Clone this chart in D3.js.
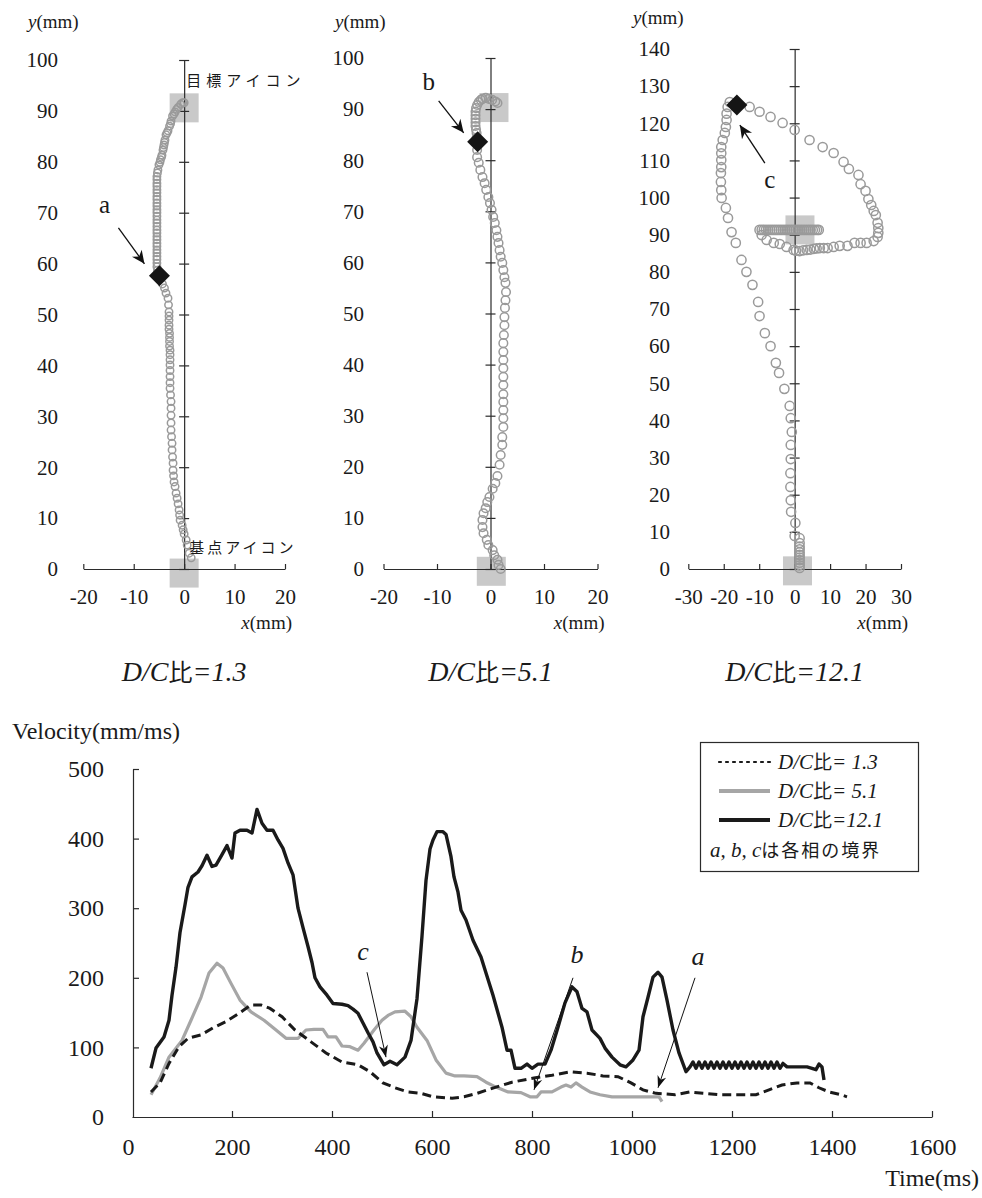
<!DOCTYPE html>
<html>
<head>
<meta charset="utf-8">
<script src="https://cdn.jsdelivr.net/npm/d3@7"></script>
<style>
  body { margin: 0; background: #fff; }
  svg { font-family: "Liberation Serif", "Times New Roman", serif; }
  svg text { font-family: "Liberation Serif", "Times New Roman", serif; fill: #1a1a1a; }
  svg text .jp, svg text.jp { font-family: "Noto Sans CJK JP", sans-serif; }
</style>
</head>
<body>
<svg id="fig" width="982" height="1198"></svg>
<script>
// ---------- trajectory data (x, y in mm), start -> end ----------
const traj13 = [
  [1.4,2.2],[1.0,3.1],[0.6,4.7],[0.4,5.7],[0.0,6.9],[-0.2,7.7],[-0.4,8.6],[-0.8,9.6],[-0.9,10.6],[-1.0,11.6],
  [-1.2,12.8],[-1.4,13.9],[-1.6,14.9],[-1.8,16.2],[-2.0,17.1],[-2.1,18.3],[-2.2,19.4],[-2.2,20.8],[-2.3,22.0],[-2.4,23.4],
  [-2.4,24.7],[-2.5,26.0],[-2.6,27.3],[-2.6,28.7],[-2.6,30.2],[-2.6,31.6],[-2.6,32.9],[-2.7,34.2],[-2.8,35.5],[-2.8,36.6],
  [-2.8,37.8],[-2.8,39.0],[-2.8,40.1],[-2.8,41.1],[-2.8,42.1],[-2.8,43.0],[-2.9,43.8],[-2.9,44.7],[-2.9,45.5],[-2.9,46.3],
  [-3.0,47.1],[-3.0,47.9],[-3.0,48.9],[-3.0,49.7],[-3.0,50.5],[-3.1,51.9],[-3.2,53.2],[-3.6,54.2],[-3.9,55.2],[-4.3,56.0],
  [-4.9,57.6],[-5.3,58.7],[-5.4,59.4],[-5.4,60.1],[-5.4,60.8],[-5.4,61.4],[-5.4,62.1],[-5.4,62.7],[-5.4,63.4],[-5.4,64.0],
  [-5.4,64.7],[-5.4,65.3],[-5.4,66.0],[-5.4,66.6],[-5.4,67.3],[-5.4,68.0],[-5.4,68.6],[-5.4,69.3],[-5.4,70.0],[-5.4,70.6],
  [-5.4,71.3],[-5.4,71.9],[-5.4,72.6],[-5.4,73.2],[-5.4,73.9],[-5.4,74.5],[-5.4,75.2],[-5.4,75.8],[-5.4,76.5],[-5.4,77.1],
  [-5.3,77.8],[-5.2,78.4],[-5.0,79.4],[-4.8,79.9],[-4.7,80.4],[-4.5,80.9],[-4.4,81.3],[-4.2,82.3],[-4.1,82.8],[-4.0,83.3],
  [-3.9,83.8],[-3.8,84.3],[-3.6,85.3],[-3.4,85.7],[-3.2,86.1],[-2.9,87.0],[-2.7,87.5],[-2.6,88.0],[-2.3,89.0],[-2.0,89.4],
  [-1.8,89.8],[-1.5,90.3],[-1.2,90.7],[-0.7,91.3],[-0.3,91.6],[0.0,91.6]
];
const traj51 = [
  [1.9,0.0],[1.5,0.8],[1.3,1.8],[0.7,2.7],[0.4,3.7],[-0.4,4.7],[-0.7,5.7],[-1.3,7.0],[-1.5,8.2],[-1.5,9.6],
  [-1.3,10.9],[-0.9,11.9],[-0.6,13.1],[-0.2,14.1],[0.4,15.7],[0.9,16.8],[1.3,18.2],[1.7,20.4],[1.9,22.3],[2.2,24.3],
  [2.2,25.8],[2.4,27.8],[2.4,29.5],[2.4,31.1],[2.4,32.7],[2.4,34.2],[2.4,36.0],[2.4,37.6],[2.4,39.3],[2.4,40.9],
  [2.4,42.5],[2.4,44.2],[2.5,45.8],[2.6,47.7],[2.6,49.3],[2.7,51.1],[2.8,52.6],[2.9,54.2],[2.8,56.0],[2.6,57.1],
  [2.4,58.5],[2.2,59.9],[1.9,61.1],[1.7,62.4],[1.5,63.8],[1.3,65.0],[1.1,66.3],[0.8,67.7],[0.5,68.9],[0.2,70.3],
  [-0.1,71.6],[-0.4,72.8],[-0.8,74.2],[-1.1,75.5],[-1.5,76.7],[-1.9,78.1],[-2.2,79.5],[-2.5,80.6],[-2.5,82.0],[-2.4,83.6],
  [-2.6,84.4],[-2.6,85.3],[-2.7,86.0],[-2.8,86.7],[-2.8,87.4],[-2.8,88.1],[-2.8,88.8],[-2.8,89.5],[-2.7,90.2],[-2.5,90.8],
  [-2.2,91.4],[-1.8,91.8],[-1.5,92.0],[-0.9,92.2],[-0.3,92.0],[0.3,91.8],[0.9,91.5],[1.3,91.2]
];
const traj121 = [
  [1.4,0.3],[1.4,1.0],[1.4,1.7],[1.4,2.4],[1.4,3.1],[1.4,3.8],[1.4,4.5],[1.4,5.3],[1.4,6.0],[1.4,7.0],
  [1.4,8.3],[0.0,8.9],[0.2,12.4],[-1.0,15.4],[-1.1,18.5],[-1.2,22.1],[-1.2,25.8],[-1.1,29.6],[-1.1,33.4],[-0.8,36.9],
  [-1.1,40.6],[-1.4,43.9],[-2.9,48.5],[-4.4,52.8],[-5.3,55.5],[-6.8,60.0],[-8.4,63.5],[-9.9,68.1],[-10.3,71.9],[-11.9,76.5],
  [-13.6,80.0],[-15.0,83.2],[-16.6,87.8],[-17.8,90.7],[-18.8,94.5],[-19.4,97.2],[-20.6,99.9],[-20.7,102.0],[-20.8,104.2],[-20.8,106.6],
  [-20.7,108.2],[-20.7,110.1],[-20.7,111.9],[-20.7,113.6],[-20.3,115.5],[-19.7,117.4],[-19.4,119.0],[-19.2,120.9],[-19.2,122.6],[-18.9,124.4],
  [-18.3,125.7],[-16.3,124.9],[-12.7,124.4],[-9.9,123.1],[-6.8,121.7],[-3.4,120.1],[0.0,118.2],[4.2,115.5],[7.9,113.6],[11.0,112.0],
  [13.8,109.6],[15.3,107.7],[18.0,106.1],[18.6,103.6],[20.0,101.8],[20.8,99.6],[21.6,98.0],[22.3,96.4],[22.9,95.3],[23.4,93.2],
  [23.6,91.8],[23.6,90.5],[23.4,89.4],[22.3,88.3],[20.3,87.8],[18.6,87.8],[16.9,87.8],[14.9,87.0],[12.7,87.0],[11.0,86.7],
  [9.3,86.4],[8.2,86.4],[7.1,86.4],[6.2,86.3],[5.4,86.2],[4.4,86.0],[3.4,85.9],[2.4,85.8],[1.4,85.6],[0.4,85.7],
  [-0.3,85.9],[-2.3,86.7],[-4.2,87.5],[-5.9,87.8],[-7.9,88.6],[-9.3,89.9],[-9.9,91.3],[-9.3,91.3],[-8.7,91.3],[-8.1,91.3],
  [-7.5,91.3],[-6.9,91.3],[-6.3,91.3],[-5.7,91.3],[-5.1,91.3],[-4.5,91.3],[-3.9,91.3],[-3.3,91.3],[-2.7,91.3],[-2.1,91.3],
  [-1.5,91.3],[-0.9,91.3],[-0.3,91.3],[0.3,91.3],[0.9,91.3],[1.5,91.3],[2.1,91.3],[2.7,91.3],[3.3,91.3],[3.9,91.3],
  [4.5,91.3],[5.1,91.3],[5.7,91.3],[6.3,91.3],[6.8,91.3]
];

// phase boundaries (a, b, c) on each trajectory
const boundaryNames = ["a", "b", "c"];
const boundaryX = [-4.9, -2.4, -16.3];
const boundaryY = [57.6, 83.6, 124.9];

// icon centres (mm)
const baseIconX = [0.0, 0.15, 0.8];
const baseIconY = [-0.8, -0.45, -0.5];
const targetIconX = [0.0, 0.65, 1.5];
const targetIconY = [90.6, 90.3, 91.3];

const dcRatios = ["1.3", "5.1", "12.1"];
const xTicksNarrow = [-20, -10, 0, 10, 20];
const xTicksWide = [-30, -20, -10, 0, 10, 20, 30];
const yTicks100 = [0, 10, 20, 30, 40, 50, 60, 70, 80, 90, 100];
const yTicks140 = [0, 10, 20, 30, 40, 50, 60, 70, 80, 90, 100, 110, 120, 130, 140];

// ---------- velocity data [time ms, velocity mm/ms] ----------
const vel13 = [
  [38,36],[56,49],[74,77],[94,101],[112,113],[138,118],[162,128],[188,137],[214,149],[238,161],
  [258,161],[276,156],[300,144],[326,125],[358,108],[388,92],[420,79],[452,75],[476,65],[502,49],
  [526,42],[552,36],[578,34],[602,29],[640,27],[664,29],[690,34],[728,43],[760,50],[804,56],
  [840,60],[878,65],[910,63],[942,59],[972,58],[998,49],[1022,39],[1048,34],[1086,32],[1116,36],
  [1142,34],[1174,32],[1212,32],[1248,32],[1274,39],[1300,46],[1330,49],[1356,49],[1374,42],[1394,36],
  [1418,32],[1430,29]
];
const vel51 = [
  [38,32],[56,56],[74,86],[100,110],[118,139],[138,172],[154,207],[170,221],[182,214],[198,192],
  [216,168],[238,151],[264,139],[288,125],[308,113],[332,113],[348,125],[364,126],[382,126],[392,115],
  [408,115],[420,102],[436,101],[452,96],[464,106],[484,125],[500,139],[512,146],[526,151],[546,152],
  [558,144],[570,129],[590,110],[608,82],[628,63],[646,59],[664,59],[690,58],[708,50],[728,43],
  [752,36],[778,35],[796,29],[810,29],[818,36],[840,36],[858,43],[868,46],[878,43],[888,49],
  [900,43],[916,36],[936,32],[960,29],[992,29],[1030,29],[1054,29],[1060,22]
];
const vel121 = [
  [38,70],[48,99],[64,115],[74,139],[80,175],[88,215],[96,265],[106,305],[112,330],[120,345],
  [132,352],[140,361],[150,376],[160,360],[168,362],[180,377],[190,390],[200,372],[206,408],[216,412],
  [230,412],[240,408],[250,442],[260,422],[270,412],[282,412],[292,398],[302,386],[312,365],[322,348],
  [332,300],[342,272],[352,245],[360,222],[366,200],[376,187],[390,175],[402,163],[420,162],[432,160],
  [442,155],[452,149],[462,135],[472,121],[482,108],[490,92],[504,75],[516,80],[530,75],[546,86],
  [558,110],[570,170],[580,260],[588,340],[596,385],[602,398],[610,410],[622,410],[628,406],[638,374],
  [644,345],[652,323],[658,297],[668,283],[682,254],[698,230],[708,207],[722,175],[740,129],[750,96],
  [758,96],[766,70],[778,70],[790,76],[800,70],[812,76],[826,76],[838,96],[852,129],[866,164],
  [880,187],[890,180],[900,156],[910,151],[920,125],[936,113],[946,99],[960,86],[976,75],[988,72],
  [1002,82],[1014,96],[1022,144],[1032,172],[1042,201],[1052,208],[1060,201],[1070,168],[1082,125],[1094,92],
  [1108,65],[1116,72],[1122,79],[1128,70],[1134,79],[1140,70],[1146,79],[1152,70],[1158,79],[1164,70],
  [1170,79],[1176,70],[1182,79],[1188,70],[1194,79],[1200,70],[1206,79],[1212,70],[1218,79],[1224,70],
  [1230,79],[1236,70],[1242,79],[1248,70],[1254,79],[1260,70],[1266,79],[1272,70],[1278,79],[1284,70],
  [1290,79],[1296,70],[1302,77],[1310,72],[1330,72],[1350,72],[1360,70],[1368,68],[1374,76],[1380,72],
  [1384,53]
];
const timeTicks = [0, 200, 400, 600, 800, 1000, 1200, 1400, 1600];
const velTicks = [0, 100, 200, 300, 400, 500];

// phase boundary arrows on the velocity chart: tip, tail and label (t, v)
const phaseNames = ["a", "b", "c"];
const phaseTipT = [1052, 804, 508];
const phaseTipV = [42, 39, 86];
const phaseTailT = [1126, 882, 470];
const phaseTailV = [200, 200, 208];
const phaseLabelT = [1132, 890, 462];
const phaseLabelV = [219, 221, 226];

// ---------- drawing ----------
const svg = d3.select("#fig");
const defs = svg.append("defs");
function addArrow(id, len, half) {
  defs.append("marker")
    .attr("id", id)
    .attr("markerUnits", "userSpaceOnUse")
    .attr("viewBox", `${-len - 1} ${-half - 1} ${len + 2} ${2 * half + 2}`)
    .attr("markerWidth", len + 2).attr("markerHeight", 2 * half + 2)
    .attr("refX", 0).attr("refY", 0).attr("orient", "auto")
    .append("path")
    .attr("d", `M0,0L${-len},${-half}L${-len * 0.7},0L${-len},${half}Z`)
    .attr("fill", "#111");
}
addArrow("headTraj", 13, 6);
addArrow("headVel", 12, 4.5);

const AXIS = "#2b2b2b";
const CIRCLE = "#9a9a9a";
const ICON = "#c9c9c9";
const SERIF = '"Liberation Serif", "Times New Roman", serif';
const plain = d => String(d);

const panels = [
  { data: traj13, xDom: [-20, 20], xRange: [83.3, 285], yDom: [0, 100], yRange: [569, 60],
    xTicks: xTicksNarrow, yTicks: yTicks100, labelRight: 58, yTitleX: 28, r: 3.7,
    lab: [-55, -63], tail: [-41, -48], tip: [-15, -12] },
  { data: traj51, xDom: [-20, 20], xRange: [383.5, 597.5], yDom: [0, 100], yRange: [569, 58],
    xTicks: xTicksNarrow, yTicks: yTicks100, labelRight: 364, yTitleX: 335, r: 4.3,
    lab: [-49, -52], tail: [-39, -41], tip: [-14, -9] },
  { data: traj121, xDom: [-30, 30], xRange: [688.3, 901], yDom: [0, 140], yRange: [569, 49],
    xTicks: xTicksWide, yTicks: yTicks140, labelRight: 670, yTitleX: 633, r: 4.6,
    lab: [33, 83], tail: [28, 58], tip: [3, 20] }
];

function cleanAxis(sel) {
  sel.attr("font-family", SERIF).attr("font-size", null);
  sel.selectAll("path.domain").attr("stroke", AXIS).attr("stroke-width", 1.2);
  sel.selectAll(".tick line").attr("stroke", AXIS).attr("stroke-width", 1.2);
}

panels.forEach((p, i) => {
  const x = d3.scaleLinear().domain(p.xDom).range(p.xRange);
  const y = d3.scaleLinear().domain(p.yDom).range(p.yRange);
  const g = svg.append("g");

  // base and target icons
  const sz = 29;
  g.selectAll("rect.icon")
    .data([[baseIconX[i], baseIconY[i]], [targetIconX[i], targetIconY[i]]])
    .join("rect").attr("class", "icon")
    .attr("x", d => x(d[0]) - sz / 2).attr("y", d => y(d[1]) - sz / 2)
    .attr("width", sz).attr("height", sz).attr("fill", ICON);

  // x axis (ticks point up)
  const gx = g.append("g").attr("transform", `translate(0,${y(0)})`)
    .call(d3.axisBottom(x).tickValues(p.xTicks).tickFormat(plain)
      .tickSize(-5).tickSizeOuter(0).tickPadding(20));
  cleanAxis(gx);
  gx.selectAll(".tick text").attr("font-size", 21).attr("fill", "#1a1a1a");

  // y axis through x = 0 with crossing ticks
  const gy = g.append("g").attr("transform", `translate(${x(0)},0)`)
    .call(d3.axisRight(y).tickValues(p.yTicks).tickSize(5).tickSizeOuter(0).tickFormat(""));
  cleanAxis(gy);
  gy.selectAll(".tick line").attr("x1", -5).attr("x2", 5);
  gy.selectAll(".tick text").remove();

  // y tick labels on the left
  g.selectAll("text.ylab").data(p.yTicks).join("text").attr("class", "ylab")
    .attr("x", p.labelRight).attr("y", d => y(d)).attr("dy", "0.35em")
    .attr("text-anchor", "end").attr("font-size", 21).text(plain);

  // axis titles
  const yt = g.append("text").attr("x", p.yTitleX).attr("y", i === 2 ? 24 : 28).attr("font-size", 19);
  yt.append("tspan").attr("font-style", "italic").text("y");
  yt.append("tspan").text("(mm)");
  const xt = g.append("text").attr("x", p.xRange[1] + 7).attr("y", 629)
    .attr("text-anchor", "end").attr("font-size", 19);
  xt.append("tspan").attr("font-style", "italic").text("x");
  xt.append("tspan").text("(mm)");

  // trajectory samples
  g.selectAll("circle.pt").data(p.data).join("circle").attr("class", "pt")
    .attr("cx", d => x(d[0])).attr("cy", d => y(d[1])).attr("r", p.r)
    .attr("fill", "none").attr("stroke", CIRCLE).attr("stroke-width", 1.5);

  // phase boundary marker
  const bx = x(boundaryX[i]), by = y(boundaryY[i]);
  const dm = 10.5;
  g.append("path")
    .attr("d", `M${bx},${by - dm}L${bx + dm},${by}L${bx},${by + dm}L${bx - dm},${by}Z`)
    .attr("fill", "#151515");
  g.append("line")
    .attr("x1", bx + p.tail[0]).attr("y1", by + p.tail[1])
    .attr("x2", bx + p.tip[0]).attr("y2", by + p.tip[1])
    .attr("stroke", "#111").attr("stroke-width", 1.3).attr("marker-end", "url(#headTraj)");
  g.append("text").attr("x", bx + p.lab[0]).attr("y", by + p.lab[1])
    .attr("text-anchor", "middle").attr("font-size", 25).text(boundaryNames[i]);

  // ratio caption
  const cap = g.append("text").attr("x", x(0)).attr("y", 681).attr("text-anchor", "middle")
    .attr("font-size", 28).attr("font-style", "italic");
  cap.append("tspan").text("D/C");
  cap.append("tspan").attr("class", "jp").attr("font-style", "normal").attr("font-size", 24).text("比");
  cap.append("tspan").text("=" + dcRatios[i]);

  if (i === 0) {
    g.append("text").attr("class", "jp").attr("x", x(0) + 2).attr("y", 86)
      .attr("font-size", 15).attr("letter-spacing", 5).text("目標アイコン");
    g.append("text").attr("class", "jp").attr("x", x(0) + 5).attr("y", 553)
      .attr("font-size", 15).attr("letter-spacing", 3).text("基点アイコン");
  }
});

// ---------- velocity chart ----------
const xv = d3.scaleLinear().domain([0, 1600]).range([132, 932]);
const yv = d3.scaleLinear().domain([0, 500]).range([1117, 769]);
const gv = svg.append("g");

const gvx = gv.append("g").attr("transform", `translate(0,${yv(0)})`)
  .call(d3.axisBottom(xv).tickValues(timeTicks).tickFormat(plain)
    .tickSize(-6).tickSizeOuter(0).tickPadding(21));
cleanAxis(gvx);
gvx.selectAll(".tick text").attr("font-size", 24).attr("fill", "#1a1a1a");
gvx.selectAll(".tick").filter(d => d === 0).select("line").remove();
gvx.selectAll(".tick").filter(d => d === 0).select("text").attr("x", -4);

const gvy = gv.append("g").attr("transform", `translate(${xv(0) + 1},0)`)
  .call(d3.axisLeft(yv).tickValues(velTicks).tickFormat(plain)
    .tickSize(-6).tickSizeOuter(0).tickPadding(29));
cleanAxis(gvy);
gvy.selectAll(".tick text").attr("font-size", 24).attr("fill", "#1a1a1a");
gvy.selectAll(".tick").filter(d => d === 0).select("line").remove();

gv.append("text").attr("x", 12).attr("y", 739).attr("font-size", 24).text("Velocity(mm/ms)");
gv.append("text").attr("x", 979).attr("y", 1186).attr("text-anchor", "end").attr("font-size", 24).text("Time(ms)");

const line = d3.line().x(d => xv(d[0])).y(d => yv(d[1]));
gv.append("path").datum(vel51).attr("d", line).attr("fill", "none")
  .attr("stroke", "#a6a6a6").attr("stroke-width", 3.2).attr("stroke-linejoin", "round");
gv.append("path").datum(vel13).attr("d", line).attr("fill", "none")
  .attr("stroke", "#1a1a1a").attr("stroke-width", 3).attr("stroke-dasharray", "9,5");
gv.append("path").datum(vel121).attr("d", line).attr("fill", "none")
  .attr("stroke", "#1a1a1a").attr("stroke-width", 3.4).attr("stroke-linejoin", "round");

// phase boundary annotations
phaseNames.forEach((n, k) => {
  gv.append("line")
    .attr("x1", xv(phaseTailT[k])).attr("y1", yv(phaseTailV[k]))
    .attr("x2", xv(phaseTipT[k])).attr("y2", yv(phaseTipV[k]))
    .attr("stroke", "#111").attr("stroke-width", 1).attr("marker-end", "url(#headVel)");
  gv.append("text").attr("x", xv(phaseLabelT[k])).attr("y", yv(phaseLabelV[k]))
    .attr("text-anchor", "middle").attr("font-size", 26).attr("font-style", "italic").text(n);
});

// legend
const lg = gv.append("g");
lg.append("rect").attr("x", 700.5).attr("y", 742.5).attr("width", 218).attr("height", 129)
  .attr("fill", "#fff").attr("stroke", AXIS).attr("stroke-width", 1.2);
const legendRows = [
  { dash: "2,5", color: "#1a1a1a", width: 2.2, cap: "round", label: "= " + dcRatios[0] },
  { dash: null, color: "#a6a6a6", width: 4, cap: "butt", label: "= " + dcRatios[1] },
  { dash: null, color: "#1a1a1a", width: 4, cap: "butt", label: "=" + dcRatios[2] }
];
legendRows.forEach((r, k) => {
  const cy = 762 + k * 29;
  lg.append("line").attr("x1", 719).attr("x2", 770).attr("y1", cy).attr("y2", cy)
    .attr("stroke", r.color).attr("stroke-width", r.width)
    .attr("stroke-dasharray", r.dash).attr("stroke-linecap", r.cap);
  const t = lg.append("text").attr("x", 778).attr("y", cy + 7).attr("font-size", 21).attr("font-style", "italic");
  t.append("tspan").text("D/C");
  t.append("tspan").attr("class", "jp").attr("font-style", "normal").attr("font-size", 19).text("比");
  t.append("tspan").text(r.label);
});
const note = lg.append("text").attr("x", 710).attr("y", 857).attr("font-size", 21);
note.append("tspan").attr("font-style", "italic").text("a, b, c");
note.append("tspan").attr("class", "jp").attr("font-size", 18).attr("letter-spacing", 2).text("は各相の境界");
</script>
</body>
</html>
